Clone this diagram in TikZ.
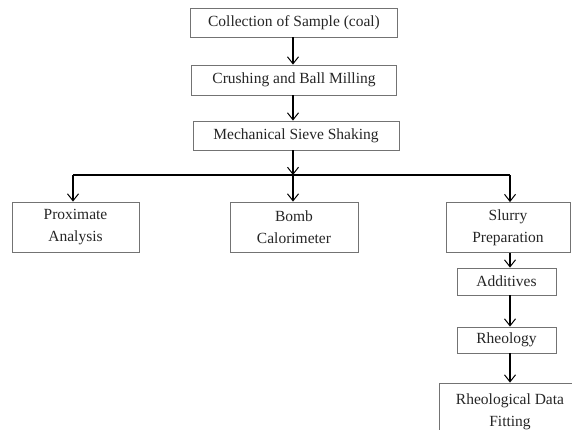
\documentclass[tikz,border=0pt]{standalone}
\usepackage{fontspec}
\setmainfont{Liberation Serif}
\usetikzlibrary{arrows.meta}
\begin{document}
\begin{tikzpicture}[x=1pt,y=-1pt,
  box/.style={draw=black!55, line width=0.8pt, fill=white, inner sep=0pt, align=center,
    font=\fontsize{15.5}{22}\selectfont, text=black!85},
  conn/.style={draw=black, line width=1.2pt},
  arr/.style={conn, -{Straight Barb[length=7pt,width=11pt,line width=1pt]}}
]
\useasboundingbox (0,0) rectangle (572,429);
\clip (0,0) rectangle (572,429);
\node[box, minimum width=207pt, minimum height=29pt] (c1) at (294,22.5) {Collection of Sample (coal)};
\node[box, minimum width=205pt, minimum height=30pt] (c2) at (294,80) {Crushing and Ball Milling};
\node[box, minimum width=206pt, minimum height=29pt] (c3) at (296,135.5) {Mechanical Sieve Shaking};
\node[box, minimum width=127pt, minimum height=50pt] (prox) at (75.5,227) {Proximate\\Analysis};
\node[box, minimum width=128pt, minimum height=50pt] (bomb) at (294,227) {Bomb\\Calorimeter};
\node[box, minimum width=124pt, minimum height=50pt] (slurry) at (508,227.5) {Slurry\\Preparation};
\node[box, minimum width=99pt, minimum height=27pt] (add) at (506.5,281.5) {Additives};
\node[box, minimum width=99pt, minimum height=26pt] (rheo) at (506.5,340) {Rheology};
\node[box, minimum width=142pt, minimum height=58pt] (fit) at (510,412) {Rheological Data\\Fitting};
\coordinate (j) at (293,175);
\coordinate (jl) at (73,175);
\coordinate (jr) at (510,175);
\draw[arr] (c1.south -| j) -- (c2.north -| j);
\draw[arr] (c2.south -| j) -- (c3.north -| j);
\draw[arr] (c3.south -| j) -- (j);
\draw[conn] (jl) -- (jr);
\draw[arr] (jl) -- (prox.north -| jl);
\draw[arr] (j) -- (bomb.north -| j);
\draw[arr] (jr) -- (slurry.north -| jr);
\draw[arr] (slurry.south -| jr) -- (add.north -| jr);
\draw[arr] (add.south -| jr) -- (rheo.north -| jr);
\draw[arr] (rheo.south -| jr) -- (fit.north -| jr);
\end{tikzpicture}
\end{document}
